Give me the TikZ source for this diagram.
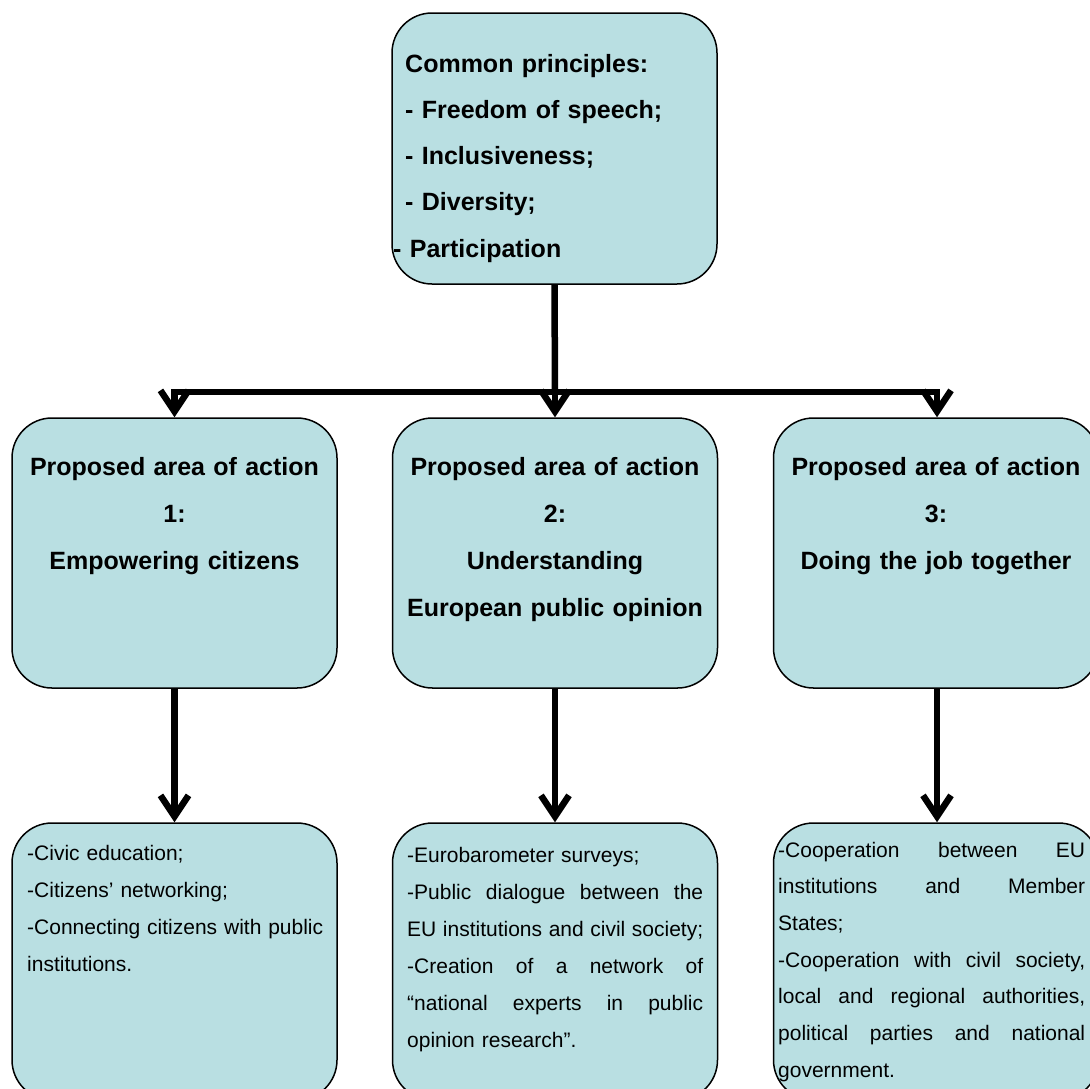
\documentclass[tikz,border=0pt]{standalone}
\usepackage{fontspec}
\setmainfont{Liberation Sans}
\usetikzlibrary{arrows.meta,calc}
\definecolor{boxfill}{RGB}{185,223,226}
% a line of text spread over a given width (words separated by \hfill)
\newcommand\jline[2]{\leavevmode\hbox to #1{#2}}
% no hyphenation in the box texts
\hyphenpenalty=10000
\exhyphenpenalty=10000

\begin{document}
\begin{tikzpicture}[x=1pt,y=-1pt,
  panel/.style={draw=black, line width=1.5pt, fill=boxfill, rounded corners=40pt,
    inner sep=0pt, minimum width=325pt},
  head/.style={font=\fontsize{25}{47}\selectfont\bfseries, align=center, inner sep=0pt,
    text width=320pt, anchor=base},
  body/.style={font=\fontsize{21}{37}\selectfont,
    align=left, inner sep=0pt, anchor=base west},
  link/.style={line width=6.5pt},
  arrow/.style={link, -{Straight Barb[length=21pt,width=28pt]}}
]
\useasboundingbox (0,0) rectangle (1090,1088);
\clip (0,0) rectangle (1090,1088);

% boxes
\node[panel, minimum height=271pt] (top) at (554.5,148.5) {};
\node[panel, minimum height=270pt] (m1) at (174.5,553) {};
\node[panel, minimum height=270pt] (m2) at (555,553) {};
\node[panel, minimum height=270pt] (m3) at (936,553) {};
\node[panel, minimum height=277pt] (b1) at (174.5,961.5) {};
\node[panel, minimum height=277pt] (b2) at (555,961.5) {};
\node[panel, minimum height=277pt] (b3) at (936,961.5) {};

% texts
\node[head, font=\fontsize{25}{46.3}\selectfont\bfseries, align=left, anchor=base west,
  text width=300pt] (toptext) at (405,72)
  {Common principles:\\- Freedom of speech;\\- Inclusiveness;\\- Diversity;\\\hspace*{-12pt}- Participation};

\node[head] (m1text) at (174.5,475) {Proposed area of action\\1:\\Empowering citizens};
\node[head] (m2text) at (555,475) {Proposed area of action\\2:\\Understanding\\European public opinion};
\node[head] (m3text) at (936,475) {Proposed area of action\\3:\\Doing the job together};

\node[body, text width=300pt] (b1text) at (27,860)
  {-Civic education;\\-Citizens’ networking;\\
   \jline{296pt}{-Connecting\hfill citizens\hfill with\hfill public}\\institutions.};
\node[body, text width=300pt] (b2text) at (407,862)
  {-Eurobarometer surveys;\\
   \jline{296pt}{-Public\hfill dialogue\hfill between\hfill the}\\
   \jline{296pt}{EU\hfill institutions\hfill and\hfill civil\hfill society;}\\
   \jline{296pt}{-Creation\hfill of\hfill a\hfill network\hfill of}\\
   \jline{296pt}{“national\hfill experts\hfill in\hfill public}\\
   opinion research”.};
\node[body, font=\fontsize{21}{36.7}\selectfont,
  text width=310pt] (b3text) at (778,857)
  {\jline{307pt}{-Cooperation\hfill between\hfill EU}\\
   \jline{307pt}{institutions\hfill and\hfill Member}\\
   States;\\
   \jline{307pt}{-Cooperation\hfill with\hfill civil\hfill society,}\\
   \jline{307pt}{local\hfill and\hfill regional\hfill authorities,}\\
   \jline{307pt}{political\hfill parties\hfill and\hfill national}\\
   government.};

% connectors
\coordinate (jm) at (555,392);
\coordinate (jl) at (m1.north |- jm);
\coordinate (jr) at (937,392);
\draw[link] (top.south) -- (jm);
\draw[link, line cap=rect] (jl) -- (jr);
\draw[arrow] (jl) -- (m1.north);
\draw[arrow] (jm) -- (m2.north);
\draw[arrow] (jr) -- (jr |- m3.north);
\draw[arrow] (m1.south) -- (b1.north);
\draw[arrow] (m2.south) -- (b2.north);
\draw[arrow] (jr |- m3.south) -- (jr |- b3.north);
\end{tikzpicture}
\end{document}
